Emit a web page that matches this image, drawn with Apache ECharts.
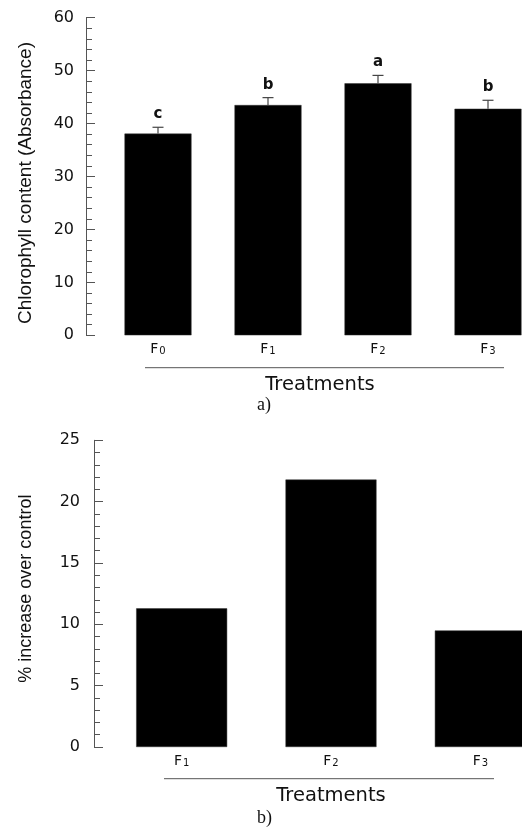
<!DOCTYPE html>
<html><head><meta charset="utf-8">
<script src="https://cdn.jsdelivr.net/npm/echarts@6/dist/echarts.min.js"></script>
<style>html,body{margin:0;padding:0;background:#fff}#c{width:522px;height:832px}</style>
</head><body><div id="c"></div>
<script>
// Panel a
var catsA = ['F0', 'F1', 'F2', 'F3'];
var subA = ['0', '1', '2', '3'];
var chlorophyll = [38.1, 43.5, 47.6, 42.8];
var chlorophyllErr = [1.2, 1.4, 1.5, 1.6];
var letters = ['c', 'b', 'a', 'b'];
var ticksA = [0, 10, 20, 30, 40, 50, 60];
// Panel b
var catsB = ['F1', 'F2', 'F3'];
var subB = ['1', '2', '3'];
var increase = [11.3, 21.8, 9.5];
var ticksB = [0, 5, 10, 15, 20, 25];

var WIDE = '"DejaVu Sans", Verdana, sans-serif';
var ARIAL = '"Liberation Sans", Arial, sans-serif';
var axisCol = '#555';

function catLabel(subs, margin) {
  return {
    interval: 0, margin: margin,
    formatter: function (v, i) { return '{f|F}{s|' + subs[i] + '}'; },
    rich: {
      f: { fontFamily: WIDE, fontSize: 14, color: '#111', verticalAlign: 'top', lineHeight: 14, padding: [0, 0, 3, 0] },
      s: { fontFamily: WIDE, fontSize: 10, color: '#111', verticalAlign: 'bottom', lineHeight: 10, padding: [0, 0, 0, 1] }
    }
  };
}

function yAx(gi, max, interval, offset, name, nameGap, nameSize, namePad, labMargin) {
  return {
    type: 'value', gridIndex: gi, min: 0, max: max, interval: interval, offset: offset,
    name: name, nameLocation: 'middle', nameGap: nameGap,
    nameTextStyle: { fontFamily: ARIAL, fontSize: nameSize, color: '#111', padding: namePad },
    axisLine: { show: true, lineStyle: { color: axisCol, width: 1 } },
    axisTick: { show: true, inside: true, length: 9, lineStyle: { color: axisCol } },
    minorTick: { show: true, splitNumber: 5, length: 6, lineStyle: { color: axisCol } },
    splitLine: { show: false },
    axisLabel: { fontFamily: WIDE, fontSize: 16, color: '#111', margin: labMargin,
      formatter: function (v) { return String(v); } }
  };
}

var chart = echarts.init(document.getElementById('c'), null, { renderer: 'canvas' });
chart.setOption({
  animation: false,
  backgroundColor: '#fff',
  grid: [
    { left: 103, width: 440, top: 17.7, height: 317.6, containLabel: false, outerBoundsMode: 'none' },
    { left: 107, width: 448, top: 440.3, height: 306.7, containLabel: false, outerBoundsMode: 'none' }
  ],
  xAxis: [
    { type: 'category', gridIndex: 0, data: catsA, boundaryGap: true,
      axisLine: { show: false }, axisTick: { show: false }, axisLabel: catLabel(subA, 7),
      name: 'Treatments', nameLocation: 'middle', nameGap: 40,
      nameTextStyle: { fontFamily: WIDE, fontSize: 19.5, color: '#111', padding: [0, 6, 0, 0] } },
    { type: 'category', gridIndex: 1, data: catsB, boundaryGap: true,
      axisLine: { show: false }, axisTick: { show: false }, axisLabel: catLabel(subB, 7),
      name: 'Treatments', nameLocation: 'middle', nameGap: 39,
      nameTextStyle: { fontFamily: WIDE, fontSize: 19.5, color: '#111' } }
  ],
  yAxis: [
    yAx(0, 60, 10, 17, 'Chlorophyll content (Absorbance)', 51, 19, [0, 13, 0, 0], 12),
    yAx(1, 25, 5, 13, '% increase over control', 59, 18, [0, 0, 0, 10], 14)
  ],
  graphic: [
    { type: 'line', shape: { x1: 145, y1: 367.7, x2: 504, y2: 367.7 }, style: { stroke: axisCol, lineWidth: 1 } },
    { type: 'line', shape: { x1: 164, y1: 778.7, x2: 494, y2: 778.7 }, style: { stroke: axisCol, lineWidth: 1 } },
    { type: 'text', left: 257, top: 396, style: { text: 'a)', font: '18px "Liberation Serif", serif', fill: '#111' } },
    { type: 'text', left: 257, top: 809, style: { text: 'b)', font: '18px "Liberation Serif", serif', fill: '#111' } }
  ],
  series: [
    { type: 'bar', xAxisIndex: 0, yAxisIndex: 0, data: chlorophyll, barWidth: 67,
      itemStyle: { color: '#000', borderColor: '#333', borderWidth: 0.5 } },
    { type: 'custom', xAxisIndex: 0, yAxisIndex: 0,
      data: chlorophyll.map(function (v, i) { return [i, v, v + chlorophyllErr[i]]; }),
      renderItem: function (params, api) {
        var i = api.value(0);
        var p0 = api.coord([i, api.value(1)]);
        var p1 = api.coord([i, api.value(2)]);
        var ls = { stroke: '#444', lineWidth: 1.2 };
        return { type: 'group', children: [
          { type: 'line', shape: { x1: p0[0], y1: p0[1], x2: p1[0], y2: p1[1] }, style: ls },
          { type: 'line', shape: { x1: p1[0] - 5.5, y1: p1[1], x2: p1[0] + 5.5, y2: p1[1] }, style: ls },
          { type: 'text', x: p1[0], y: p1[1] - 13, style: { text: letters[i], fill: '#111',
            font: 'bold 15px "DejaVu Sans", sans-serif', textAlign: 'center', textVerticalAlign: 'middle' } }
        ] };
      }
    },
    { type: 'bar', xAxisIndex: 1, yAxisIndex: 1, data: increase, barWidth: 91,
      itemStyle: { color: '#000', borderColor: '#333', borderWidth: 0.5 } }
  ]
});
</script>
</body></html>
